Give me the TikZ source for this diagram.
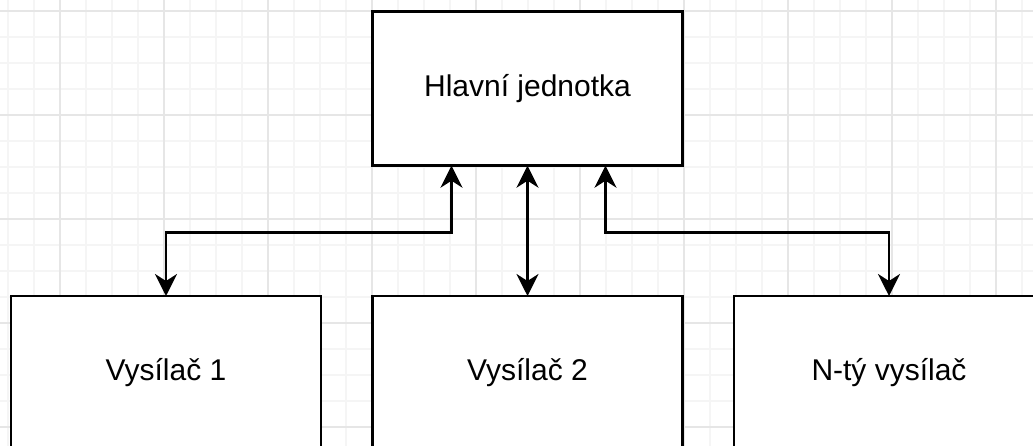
\documentclass[tikz,border=0pt]{standalone}
\usepackage{fontspec}
\setmainfont{Liberation Sans}
\usetikzlibrary{arrows.meta}
\definecolor{gridminor}{HTML}{F5F5F5}
\definecolor{gridmajor}{HTML}{E6E6E6}
\tikzset{
  box/.style={draw=black, line width=2.6pt, fill=white, minimum width=310pt, minimum height=154pt, inner sep=0pt, outer sep=0pt, font=\fontsize{30}{36}\selectfont},
  link/.style={line width=2.6pt, {Stealth[length=22pt,width=22pt,inset=7pt]}-{Stealth[length=22pt,width=22pt,inset=7pt]}}
}
\begin{document}
\begin{tikzpicture}[x=1pt,y=-1pt]
\useasboundingbox (0,0) rectangle (1033,446);
\clip (0,0) rectangle (1033,446);
\fill[white] (0,0) rectangle (1033,446);
% minor grid
\foreach \i in {0,...,40} {
  \draw[gridminor, line width=1.2pt] ({8+26*\i},0) -- ({8+26*\i},446);
}
\foreach \j in {0,...,17} {
  \draw[gridminor, line width=1.2pt] (0,{11+26*\j}) -- (1033,{11+26*\j});
}
% major grid
\foreach \i in {0,...,10} {
  \draw[gridmajor, line width=1.2pt] ({60+104*\i},0) -- ({60+104*\i},446);
}
\foreach \j in {0,...,4} {
  \draw[gridmajor, line width=1.2pt] (0,{11+104*\j}) -- (1033,{11+104*\j});
}
% boxes
\node[box] (main) at (527.5,88.7) {Hlavní jednotka};
\node[box] (v1) at (166,373) {Vysílač 1};
\node[box] (v2) at (527.5,373) {Vysílač 2};
\node[box] (vn) at (889,373) {N-tý vysílač};
% connectors
\draw[link] ([xshift=-76pt]main.south) -- ++(0,67) -| (v1.north);
\draw[link] (main.south) -- (v2.north);
\draw[link] ([xshift=78pt]main.south) -- ++(0,67) -| (vn.north);
\end{tikzpicture}
\end{document}
